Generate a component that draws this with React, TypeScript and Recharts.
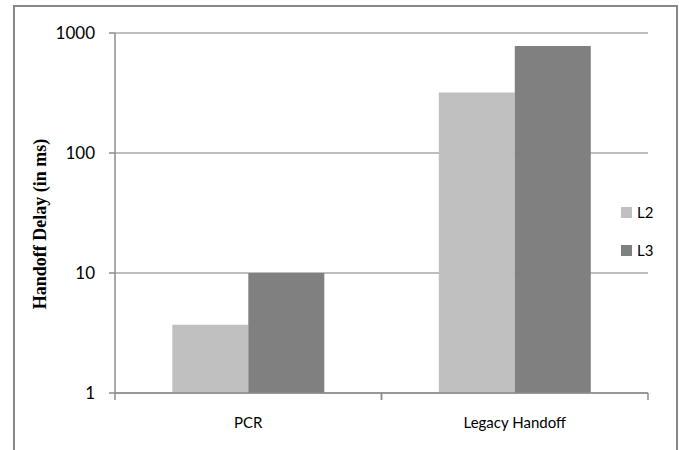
import { Bar, BarChart, CartesianGrid, XAxis, YAxis } from "recharts";

const categories = ["PCR", "Legacy Handoff"];
const l2Delay = [3.7, 320];
const l3Delay = [10, 780];
const yTicks = [1, 10, 100, 1000];

const data = categories.map((name, i) => ({ name, L2: l2Delay[i], L3: l3Delay[i] }));

const AXIS = "#8c8c8c";
const GRID = "#a8a8a8";
const SANS = "Lato, 'Open Sans', sans-serif";

const series = [
  { key: "L2", color: "#c0c0c0" },
  { key: "L3", color: "#808080" },
];

// category label at the band centre, tick marks at the band edges
function CategoryTick({ x, y, payload }: any) {
  const half = payload.offset ?? 0;
  return (
    <g>
      <line x1={x - half} x2={x - half} y1={y} y2={y + 7} stroke={AXIS} strokeWidth={1.5} />
      <line x1={x + half} x2={x + half} y1={y} y2={y + 7} stroke={AXIS} strokeWidth={1.5} />
      <text x={x} y={y + 35} textAnchor="middle" fontSize={15} fontFamily={SANS} fill="#000">
        {payload.value}
      </text>
    </g>
  );
}

function LegendBox() {
  return (
    <div style={{ position: "absolute", left: 621, top: 202, fontFamily: SANS, fontSize: 15, color: "#000" }}>
      {series.map((s) => (
        <div key={s.key} style={{ display: "flex", alignItems: "center", height: 20, marginBottom: 18 }}>
          <span style={{ width: 11, height: 11, background: s.color, display: "inline-block", marginRight: 5 }} />
          <span>{s.key}</span>
        </div>
      ))}
    </div>
  );
}

export default function App() {
  return (
    <div style={{ position: "absolute", left: 0, top: 0, width: 679, height: 450, overflow: "hidden", background: "#fff" }}>
      <div
        style={{
          position: "absolute",
          left: 13,
          top: 5,
          width: 665,
          height: 470,
          border: "2px solid #878787",
          boxSizing: "border-box",
        }}
      />
      <div style={{ position: "absolute", left: 0, top: 0 }}>
        <BarChart
          width={679}
          height={450}
          data={data}
          margin={{ top: 33, right: 31, bottom: 17, left: 0 }}
          barCategoryGap="21.5%"
          barGap={0}
        >
          <CartesianGrid horizontal vertical={false} stroke={GRID} strokeWidth={1.5} />
          <XAxis
            dataKey="name"
            height={40}
            tickSize={0}
            tickMargin={0}
            tickLine={false}
            interval={0}
            axisLine={{ stroke: AXIS, strokeWidth: 1.5 }}
            tick={<CategoryTick />}
          />
          <YAxis
            scale="log"
            type="number"
            domain={[1, 1000]}
            ticks={yTicks}
            interval={0}
            width={115}
            tickSize={6}
            tickMargin={14}
            allowDataOverflow
            axisLine={{ stroke: AXIS, strokeWidth: 1.5 }}
            tickLine={{ stroke: AXIS, strokeWidth: 1.5 }}
            tick={{ fontSize: 17, fontFamily: SANS, fill: "#000" }}
            label={{
              content: () => (
                <text
                  x={40}
                  y={224}
                  transform="rotate(-90 40 224)"
                  textAnchor="middle"
                  dominantBaseline="central"
                  fontFamily="'Liberation Serif', 'Times New Roman', serif"
                  fontWeight="bold"
                  fontSize={18}
                  fill="#000"
                >
                  Handoff Delay (in ms)
                </text>
              ),
            }}
          />
          {series.map((s) => (
            <Bar key={s.key} dataKey={s.key} fill={s.color} isAnimationActive={false} />
          ))}
        </BarChart>
      </div>
      <LegendBox />
    </div>
  );
}
